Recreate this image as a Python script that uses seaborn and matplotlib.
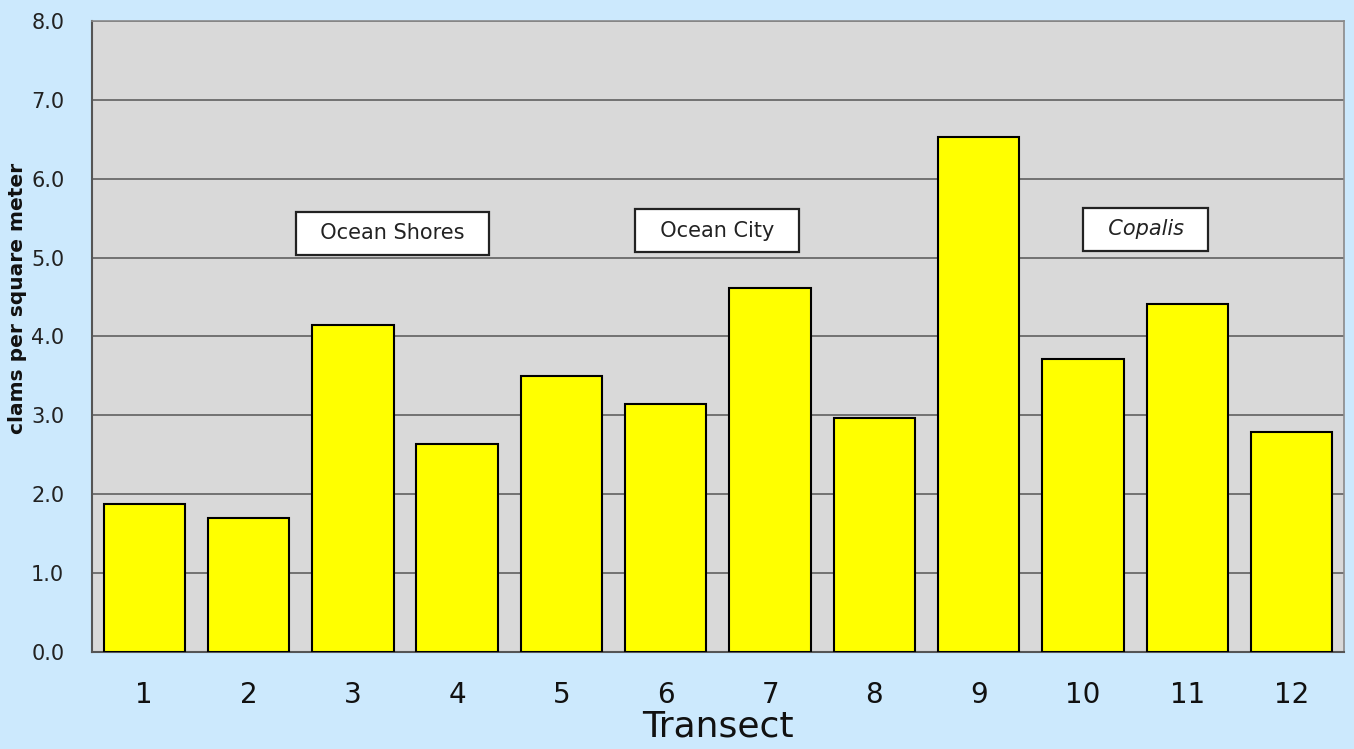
import matplotlib.pyplot as plt
import numpy as np
import pandas as pd
import seaborn as sns

#%% Data
transects = ['1', '2', '3', '4', '5', '6', '7', '8', '9', '10', '11', '12']
clams = [1.88, 1.70, 4.14, 2.64, 3.50, 3.14, 4.61, 2.97, 6.53, 3.71, 4.41, 2.79]
beach_names = ['Ocean Shores', 'Ocean City', 'Copalis']
beach_x = [2.38, 5.49, 9.6]
beach_y = [5.31, 5.34, 5.36]
beach_style = ['normal', 'normal', 'italic']

data = pd.DataFrame({'Transect': transects, 'clams': clams})

#%% Figure
sns.set_style("whitegrid")
plt.rcParams['font.family'] = ['DejaVu Sans']

fig = plt.figure(figsize=(13.54, 7.49), dpi=100, facecolor='#cce9fd')
ax = fig.add_axes([0.068, 0.1295, 0.9245, 0.8425])
ax.set_facecolor('#d9d9d9')

sns.barplot(data=data, x='Transect', y='clams', color='#ffff00',
            saturation=1, width=0.78, edgecolor='black', linewidth=1.5, ax=ax,
            zorder=3)

# gridlines
ax.grid(False)
ax.set_yticks(np.arange(0, 8.1, 1.0))
ax.set_yticklabels([f'{v:.1f}' for v in np.arange(0, 8.1, 1.0)], fontsize=15, color='#222222')
for v in np.arange(1, 8.1, 1.0):
    ax.axhline(v, color='#6a6a6a', linewidth=1.3, zorder=1)
ax.set_ylim(0, 8)
ax.set_xlim(-0.5, len(transects) - 0.5)

# ticks at category boundaries
ax.set_xticks(np.arange(len(transects)))
ax.set_xticklabels(transects, fontsize=20, color='#111111')
ax.set_xticks(np.arange(-0.5, len(transects), 1.0), minor=True)
ax.tick_params(axis='x', which='major', length=0, pad=21)
ax.tick_params(axis='x', which='minor', length=8, width=1.3, color='#555555', direction='out')
ax.tick_params(axis='y', length=9, width=1.3, color='#555555', direction='out', pad=11)

for side in ['left', 'bottom']:
    ax.spines[side].set_color('#555555')
    ax.spines[side].set_linewidth(1.5)
for side in ['top', 'right']:
    ax.spines[side].set_color('#8a8a8a')
    ax.spines[side].set_linewidth(1.2)

ax.set_xlabel('Transect', fontsize=26, labelpad=0, color='#111111')
ax.set_ylabel('clams per square meter', fontsize=14.5, fontweight='bold', color='#111111')
ax.yaxis.set_label_coords(-0.052, 0.56)

# beach name boxes
for name, bx, by, st in zip(beach_names, beach_x, beach_y, beach_style):
    ax.text(bx, by, '  ' + name + '  ', ha='center', va='center', fontsize=15, style=st,
            color='#222222', zorder=5,
            bbox=dict(boxstyle='square,pad=0.55', facecolor='white', edgecolor='#222222', linewidth=1.6))

fig.savefig('out.png', dpi=100, facecolor=fig.get_facecolor())
